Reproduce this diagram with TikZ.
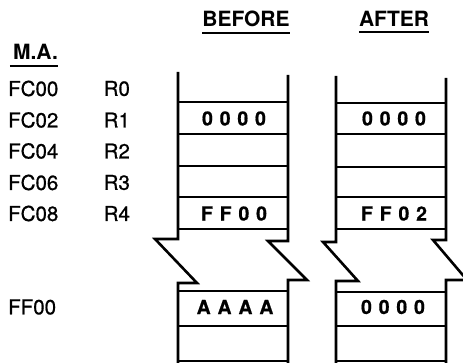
\documentclass[tikz,border=0pt]{standalone}
\usepackage{fontspec}
\setmainfont{TeX Gyre Heros}
\newfontfamily\lblfont[FakeBold=0.8]{TeX Gyre Heros}
\newfontfamily\cellfont[LetterSpace=35,FakeBold=0.6]{TeX Gyre Heros}

\begin{document}
\begin{tikzpicture}[x=1pt, y=-1pt,
  wall/.style={line width=2.6pt, line join=miter},
  rule/.style={line width=1.9pt},
  lbl/.style={anchor=west, inner sep=0pt, font=\fontsize{20.5}{21}\selectfont\lblfont},
  head/.style={inner sep=0pt, font=\fontsize{21}{21}\selectfont\bfseries},
  cell/.style={inner sep=0pt, font=\fontsize{19.5}{20}\selectfont\cellfont\bfseries},
  uline/.style={line width=2.2pt}
]
  \clip (0,0) rectangle (463,363);

  % headings
  \node[head] (ma) at (35.5,52) {M.A.};
  \node[head] (before) at (246,19) {BEFORE};
  \node[head] (after) at (394,19) {AFTER};
  \draw[uline] ([xshift=-3pt,yshift=-6pt]ma.south west) -- ([yshift=-6pt]ma.south east);
  \draw[uline] ([yshift=-5.5pt]before.south west) -- ([yshift=-5.5pt]before.south east);
  \draw[uline] ([yshift=-5.5pt]after.south west) -- ([yshift=-5.5pt]after.south east);

  % addresses and registers
  \node[lbl] (fc00) at (8,88.5) {FC00};
  \node[lbl] (fc02) at (8,120) {FC02};
  \node[lbl] (fc04) at (8,151) {FC04};
  \node[lbl] (fc06) at (8,182.5) {FC06};
  \node[lbl] (fc08) at (8,213.5) {FC08};
  \node[lbl] (ff00) at (8,307) {FF00};
  \node[lbl] (r0) at (103.5,88.5) {R0};
  \node[lbl] (r1) at (103.5,120) {R1};
  \node[lbl] (r2) at (103.5,151) {R2};
  \node[lbl] (r3) at (103.5,182.5) {R3};
  \node[lbl] (r4) at (103.5,213.5) {R4};

  % before column
  \draw[wall] (178,72) -- (178,239) -- (155,239) -- (197,283) -- (178,283) -- (178,365);
  \draw[wall] (288,75) -- (288,241) -- (268,241) -- (307,280) -- (288,280) -- (288,365);
  \foreach \y in {102,134,166,197,229,291,326,361}
    \draw[rule] (178,\y) -- (288,\y);

  % after column
  \draw[wall] (336,76) -- (336,242) -- (323,242) -- (358,281) -- (336,281) -- (336,365);
  \draw[wall] (446,78) -- (446,240) -- (433,240) -- (467,280) -- (446,280) -- (446,365);
  \foreach \y in {103,134,167,197,229,292,326,361}
    \draw[rule] (336,\y) -- (446,\y);

  % cell contents
  \node[cell] (bR1) at (234,118.5) {0000};
  \node[cell] (bR4) at (234,213.5) {FF00};
  \node[cell] (bFF) at (235,307) {AAAA};
  \node[cell] (aR1) at (394,118.5) {0000};
  \node[cell] (aR4) at (394,213.5) {FF02};
  \node[cell] (aFF) at (393,307) {0000};
\end{tikzpicture}
\end{document}
